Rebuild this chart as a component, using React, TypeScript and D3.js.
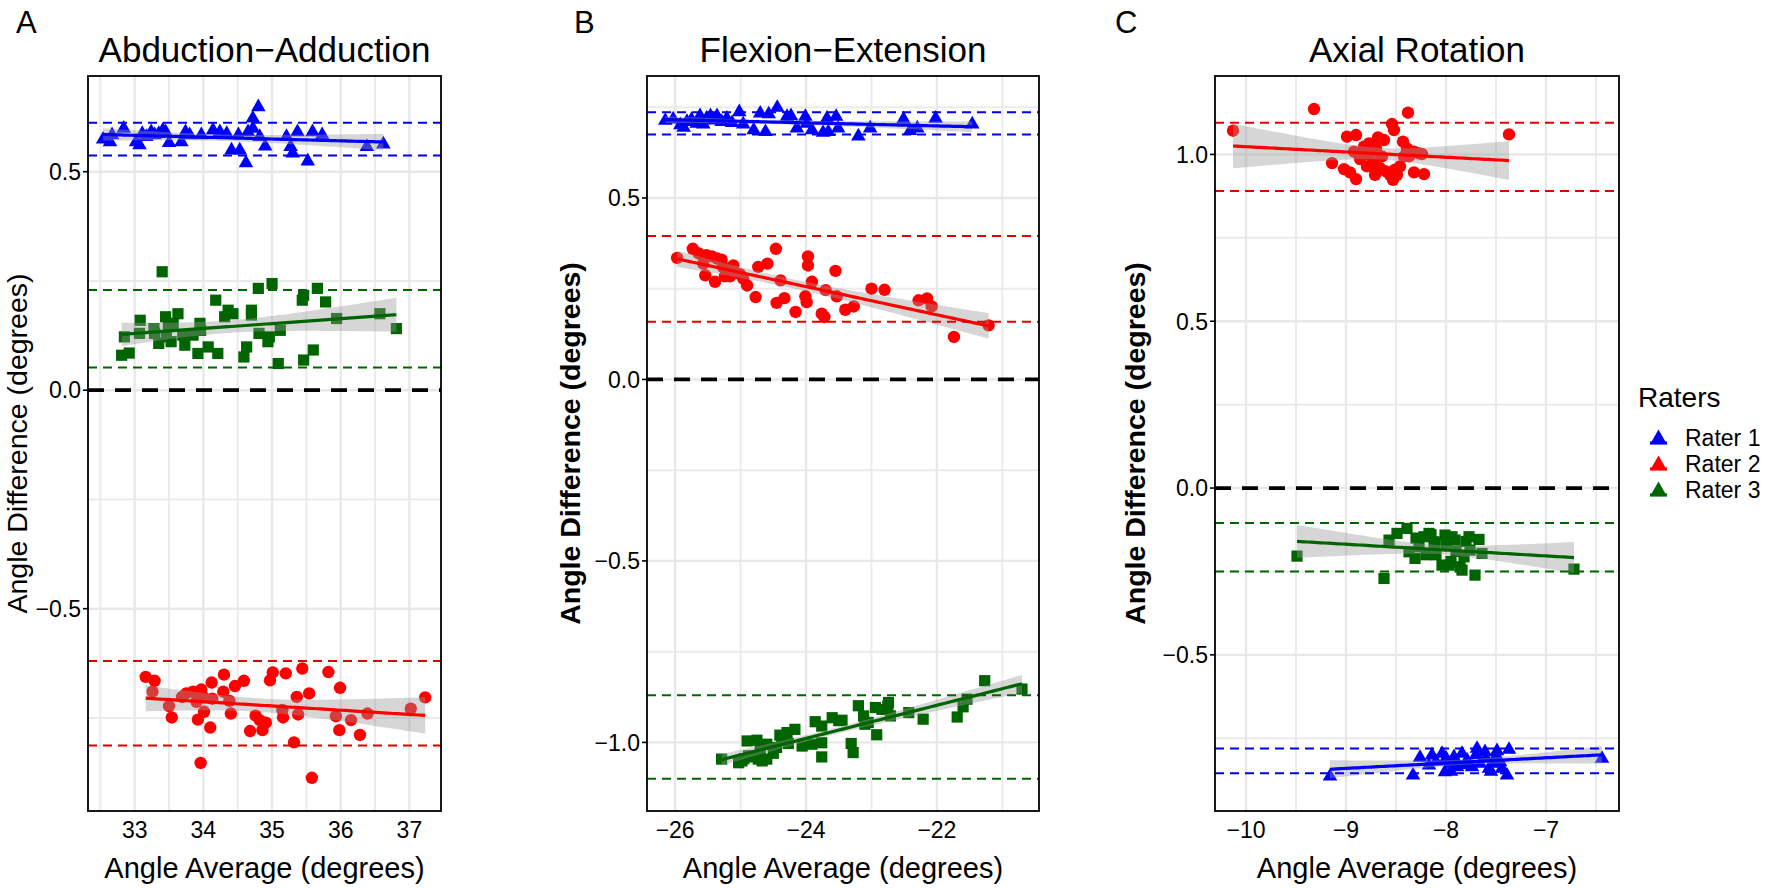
import * as d3 from 'd3'

const FONT = '"Liberation Sans", Arial, Helvetica, sans-serif'

const raterNames = ['Rater 1', 'Rater 2', 'Rater 3']
const raterColors = ['#0000ff', '#ff0000', '#006400']
const limitColors = ['#0000ee', '#dd0000', '#006400']
const raterShapes = ['triangle', 'circle', 'square']

const panelLetters = ['A', 'B', 'C']
const panelTitles = ['Abduction−Adduction', 'Flexion−Extension', 'Axial Rotation']

// axis ticks
const abdXTicks = [33, 34, 35, 36, 37]
const abdYTicks = [-0.5, 0, 0.5]
const flexXTicks = [-26, -24, -22]
const flexYTicks = [-1, -0.5, 0, 0.5]
const axXTicks = [-10, -9, -8, -7]
const axYTicks = [-0.5, 0, 0.5, 1]

// [angle average, angle difference]
const abdRater1 = [
  [32.54, 0.574], [32.64, 0.568], [32.67, 0.584], [32.84, 0.599], [33.02, 0.568], [33.07, 0.561],
  [33.11, 0.587], [33.17, 0.58], [33.24, 0.591], [33.29, 0.584], [33.35, 0.587], [33.41, 0.595],
  [33.45, 0.591], [33.5, 0.566], [33.68, 0.568], [33.74, 0.591], [33.8, 0.584], [33.97, 0.584],
  [34.14, 0.595], [34.24, 0.591], [34.34, 0.587], [34.41, 0.549], [34.51, 0.584], [34.53, 0.549],
  [34.62, 0.52], [34.65, 0.591], [34.72, 0.622], [34.72, 0.599], [34.8, 0.648], [34.82, 0.58],
  [34.9, 0.558], [35.21, 0.58], [35.27, 0.557], [35.3, 0.542], [35.37, 0.591], [35.52, 0.524],
  [35.59, 0.591], [35.73, 0.584], [36.38, 0.557], [36.62, 0.563],
]
const abdRater2 = [
  [33.16, -0.656], [33.29, -0.665], [33.26, -0.69], [33.5, -0.723], [33.54, -0.749], [33.69, -0.702],
  [33.75, -0.694], [33.85, -0.69], [33.9, -0.713], [33.92, -0.754], [33.97, -0.685], [34.0, -0.702],
  [34.01, -0.736], [33.96, -0.853], [34.1, -0.772], [34.12, -0.669], [34.13, -0.706], [34.29, -0.69],
  [34.3, -0.651], [34.38, -0.711], [34.4, -0.74], [34.46, -0.677], [34.59, -0.665], [34.68, -0.78],
  [34.76, -0.745], [34.82, -0.755], [34.86, -0.778], [34.91, -0.761], [34.97, -0.664], [35.01, -0.646],
  [35.15, -0.732], [35.16, -0.749], [35.2, -0.648], [35.32, -0.806], [35.36, -0.702], [35.38, -0.742],
  [35.44, -0.637], [35.54, -0.694], [35.58, -0.887], [35.82, -0.645], [35.93, -0.746], [35.98, -0.778],
  [35.99, -0.681], [36.15, -0.755], [36.28, -0.789], [36.39, -0.74], [37.02, -0.729], [37.23, -0.703],
]
const abdRater3 = [
  [32.81, 0.08], [32.92, 0.085], [32.85, 0.122], [33.08, 0.16], [33.07, 0.13], [33.28, 0.141],
  [33.29, 0.13], [33.35, 0.107], [33.4, 0.271], [33.45, 0.168], [33.46, 0.122], [33.49, 0.149],
  [33.53, 0.111], [33.56, 0.153], [33.63, 0.175], [33.7, 0.126], [33.73, 0.103], [33.85, 0.126],
  [33.92, 0.084], [33.95, 0.153], [33.96, 0.137], [34.07, 0.099], [34.18, 0.206], [34.21, 0.084],
  [34.31, 0.168], [34.36, 0.183], [34.43, 0.175], [34.59, 0.076], [34.63, 0.099], [34.7, 0.183],
  [34.7, 0.172], [34.8, 0.233], [34.81, 0.13], [34.94, 0.111], [34.96, 0.122], [35.0, 0.244],
  [35.09, 0.061], [35.12, 0.137], [35.44, 0.206], [35.46, 0.069], [35.46, 0.217], [35.6, 0.092],
  [35.66, 0.233], [35.78, 0.202], [35.94, 0.164], [36.57, 0.175], [36.81, 0.141],
]

const flexRater1 = [
  [-26.15, 0.713], [-26.03, 0.717], [-25.92, 0.701], [-25.87, 0.694], [-25.82, 0.71], [-25.75, 0.716],
  [-25.67, 0.705], [-25.62, 0.726], [-25.57, 0.703], [-25.52, 0.719], [-25.46, 0.726], [-25.41, 0.714],
  [-25.36, 0.726], [-25.29, 0.71], [-25.21, 0.719], [-25.13, 0.707], [-25.02, 0.737], [-24.96, 0.703],
  [-24.8, 0.687], [-24.7, 0.733], [-24.62, 0.682], [-24.57, 0.731], [-24.44, 0.749], [-24.29, 0.724],
  [-24.23, 0.726], [-24.14, 0.692], [-24.01, 0.724], [-23.99, 0.705], [-23.91, 0.687], [-23.74, 0.68],
  [-23.68, 0.719], [-23.66, 0.682], [-23.54, 0.724], [-23.51, 0.692], [-23.2, 0.67], [-23.02, 0.692],
  [-22.51, 0.717], [-22.41, 0.685], [-22.3, 0.692], [-22.02, 0.719], [-21.46, 0.703],
]
const flexRater2 = [
  [-25.97, 0.335], [-25.73, 0.36], [-25.64, 0.347], [-25.57, 0.319], [-25.54, 0.287], [-25.52, 0.342],
  [-25.44, 0.339], [-25.39, 0.269], [-25.36, 0.333], [-25.29, 0.33], [-25.27, 0.31], [-25.24, 0.284],
  [-25.16, 0.284], [-25.11, 0.314], [-25.01, 0.29], [-24.96, 0.278], [-24.9, 0.259], [-24.77, 0.227],
  [-24.73, 0.31], [-24.59, 0.319], [-24.46, 0.36], [-24.45, 0.211], [-24.39, 0.273], [-24.33, 0.224],
  [-24.16, 0.186], [-24.01, 0.229], [-23.99, 0.213], [-23.97, 0.339], [-23.97, 0.314], [-23.91, 0.269],
  [-23.76, 0.181], [-23.72, 0.172], [-23.7, 0.246], [-23.55, 0.299], [-23.53, 0.229], [-23.4, 0.192],
  [-23.27, 0.201], [-23.0, 0.25], [-22.8, 0.247], [-22.28, 0.218], [-22.15, 0.223], [-22.08, 0.201],
  [-21.74, 0.117], [-21.21, 0.149],
]
const flexRater3 = [
  [-25.29, -1.046], [-25.03, -1.056], [-24.98, -1.051], [-24.9, -0.996], [-24.88, -1.037], [-24.75, -0.994],
  [-24.73, -1.046], [-24.67, -1.051], [-24.6, -1.005], [-24.6, -1.046], [-24.45, -1.014], [-24.37, -0.994],
  [-24.29, -0.973], [-24.27, -1.003], [-24.17, -0.964], [-24.06, -1.01], [-23.91, -1.005], [-23.86, -0.943],
  [-23.76, -0.955], [-23.76, -1.001], [-23.76, -1.04], [-23.6, -0.932], [-23.45, -0.939], [-23.31, -1.003],
  [-23.28, -1.028], [-23.2, -0.899], [-23.12, -0.927], [-23.1, -0.95], [-22.94, -0.904], [-22.92, -0.979],
  [-22.84, -0.909], [-22.74, -0.89], [-22.71, -0.927], [-22.43, -0.918], [-22.21, -0.936], [-21.69, -0.93],
  [-21.6, -0.902], [-21.54, -0.881], [-21.27, -0.83], [-20.7, -0.853], [-24.95, -1.045], [-24.85, -1.04],
  [-24.7, -1.02], [-24.5, -1.03], [-24.4, -0.98], [-23.5, -0.94], [-23.05, -0.945], [-22.75, -0.9],
]

const axRater1 = [
  [-9.16, -0.864], [-8.33, -0.861], [-8.26, -0.808], [-8.17, -0.831], [-8.14, -0.801], [-8.04, -0.796],
  [-8.01, -0.851], [-7.96, -0.826], [-7.92, -0.806], [-7.89, -0.836], [-7.84, -0.796], [-7.79, -0.816],
  [-7.74, -0.836], [-7.69, -0.781], [-7.66, -0.826], [-7.61, -0.791], [-7.57, -0.841], [-7.54, -0.826],
  [-7.49, -0.788], [-7.46, -0.821], [-7.44, -0.841], [-7.39, -0.861], [-7.37, -0.784], [-6.44, -0.811],
  [-8.0, -0.81], [-7.9, -0.82], [-7.8, -0.83], [-7.7, -0.8], [-7.6, -0.81], [-7.55, -0.85],
  [-8.1, -0.82], [-7.95, -0.85], [-7.5, -0.805],
]
const axRater2 = [
  [-10.13, 1.071], [-9.32, 1.136], [-9.14, 0.974], [-9.02, 0.956], [-8.99, 1.053], [-8.96, 0.946],
  [-8.92, 1.008], [-8.9, 1.058], [-8.9, 0.926], [-8.86, 0.986], [-8.82, 1.023], [-8.79, 0.964],
  [-8.77, 1.033], [-8.76, 0.998], [-8.73, 0.974], [-8.71, 0.939], [-8.7, 1.018], [-8.68, 1.051],
  [-8.66, 0.959], [-8.64, 0.994], [-8.62, 1.043], [-8.6, 0.949], [-8.56, 0.939], [-8.54, 1.091],
  [-8.53, 0.924], [-8.52, 1.073], [-8.51, 0.954], [-8.49, 0.939], [-8.46, 0.964], [-8.43, 1.038],
  [-8.42, 0.994], [-8.39, 1.018], [-8.38, 1.125], [-8.37, 0.994], [-8.32, 0.946], [-8.32, 1.008],
  [-8.27, 1.003], [-8.24, 1.001], [-8.22, 0.941], [-7.37, 1.06],
]
const axRater3 = [
  [-9.49, -0.204], [-8.62, -0.271], [-8.57, -0.156], [-8.49, -0.136], [-8.39, -0.121], [-8.37, -0.191],
  [-8.31, -0.211], [-8.27, -0.176], [-8.22, -0.146], [-8.17, -0.136], [-8.12, -0.161], [-8.11, -0.166],
  [-8.04, -0.231], [-8.01, -0.141], [-7.97, -0.231], [-7.94, -0.146], [-7.91, -0.156], [-7.86, -0.236],
  [-7.84, -0.246], [-7.82, -0.206], [-7.77, -0.146], [-7.76, -0.186], [-7.71, -0.261], [-7.67, -0.154],
  [-7.64, -0.196], [-6.72, -0.243], [-8.3, -0.15], [-8.2, -0.2], [-8.0, -0.17], [-7.9, -0.19],
  [-7.8, -0.16], [-8.1, -0.2], [-7.95, -0.22], [-8.15, -0.14],
]

// limits of agreement [upper, lower] for rater 1, 2, 3
const abdLimits = [[0.612, 0.537], [-0.62, -0.813], [0.229, 0.052]]
const flexLimits = [[0.736, 0.675], [0.395, 0.159], [-0.87, -1.1]]
const axLimits = [[-0.781, -0.855], [1.095, 0.89], [-0.105, -0.25]]

const panels = [
  {
    series: [abdRater1, abdRater2, abdRater3], limits: abdLimits, xTicks: abdXTicks, yTicks: abdYTicks,
    xDomain: [32.32, 37.46], yDomain: [-0.963, 0.719],
    left: 88, right: 441, top: 76, bottom: 811, letterX: 16, yTitleX: 27, boldY: false,
  },
  {
    series: [flexRater1, flexRater2, flexRater3], limits: flexLimits, xTicks: flexXTicks, yTicks: flexYTicks,
    xDomain: [-26.43, -20.44], yDomain: [-1.189, 0.836],
    left: 647, right: 1039, top: 76, bottom: 811, letterX: 574, yTitleX: 580, boldY: true,
  },
  {
    series: [axRater1, axRater2, axRater3], limits: axLimits, xTicks: axXTicks, yTicks: axYTicks,
    xDomain: [-10.31, -6.27], yDomain: [-0.968, 1.235],
    left: 1215, right: 1619, top: 76, bottom: 811, letterX: 1115, yTitleX: 1145, boldY: true,
  },
]

const minus = (s: string) => s.replace('-', '−')

// midpoints between major ticks, one step beyond at both ends
function minorTicks(ticks: number[], domain: number[]) {
  const step = ticks[1] - ticks[0]
  const out: number[] = []
  for (let v = ticks[0] - step / 2; v <= ticks[ticks.length - 1] + step; v += step) {
    if (v > domain[0] && v < domain[1]) out.push(v)
  }
  return out
}

// lm fit with 95% confidence band, like geom_smooth(method = 'lm')
function lmBand(pts: number[][]) {
  const n = pts.length
  const mx = d3.mean(pts, (d) => d[0]) as number
  const my = d3.mean(pts, (d) => d[1]) as number
  const sxx = d3.sum(pts, (d) => (d[0] - mx) ** 2)
  const sxy = d3.sum(pts, (d) => (d[0] - mx) * (d[1] - my))
  const slope = sxy / sxx
  const icpt = my - slope * mx
  const s = Math.sqrt(d3.sum(pts, (d) => (d[1] - icpt - slope * d[0]) ** 2) / (n - 2))
  const t = 2.01
  const [x0, x1] = d3.extent(pts, (d) => d[0]) as [number, number]
  return d3.range(0, 81).map((i) => {
    const xv = x0 + ((x1 - x0) * i) / 80
    const f = icpt + slope * xv
    const se = s * Math.sqrt(1 / n + (xv - mx) ** 2 / sxx)
    return { x: xv, y: f, lo: f - t * se, hi: f + t * se }
  })
}

const symbolPath = {
  triangle: d3.symbol(d3.symbolTriangle, 92)(),
  circle: d3.symbol(d3.symbolCircle, Math.PI * 6.2 * 6.2)(),
  square: d3.symbol(d3.symbolSquare, 11.2 * 11.2)(),
}

function Panel({ p, i }: { p: any; i: number }) {
  const x = d3.scaleLinear().domain(p.xDomain).range([p.left, p.right])
  const y = d3.scaleLinear().domain(p.yDomain).range([p.bottom, p.top])
  const xMinor = minorTicks(p.xTicks, p.xDomain)
  const yMinor = minorTicks(p.yTicks, p.yDomain)
  const area = d3.area<any>().x((d) => x(d.x)).y0((d) => y(d.lo)).y1((d) => y(d.hi))
  const line = d3.line<any>().x((d) => x(d.x)).y((d) => y(d.y))
  const midX = (p.left + p.right) / 2
  const midY = (p.top + p.bottom) / 2

  return (
    <g>
      <rect x={p.left} y={p.top} width={p.right - p.left} height={p.bottom - p.top} fill="#fff" />
      {xMinor.map((v) => (
        <line key={'xm' + v} x1={x(v)} x2={x(v)} y1={p.top} y2={p.bottom} stroke="#ebebeb" strokeWidth={2} />
      ))}
      {yMinor.map((v) => (
        <line key={'ym' + v} x1={p.left} x2={p.right} y1={y(v)} y2={y(v)} stroke="#ebebeb" strokeWidth={2} />
      ))}
      {p.xTicks.map((v: number) => (
        <line key={'x' + v} x1={x(v)} x2={x(v)} y1={p.top} y2={p.bottom} stroke="#e8e8e8" strokeWidth={2.4} />
      ))}
      {p.yTicks.map((v: number) => (
        <line key={'y' + v} x1={p.left} x2={p.right} y1={y(v)} y2={y(v)} stroke="#e8e8e8" strokeWidth={2.4} />
      ))}

      {p.series.map((pts: number[][], r: number) => (
        <g key={'pts' + r} fill={raterColors[r]}>
          {pts.map((d, k) => (
            <path key={k} d={symbolPath[raterShapes[r]]} transform={`translate(${x(d[0])},${y(d[1])})`} />
          ))}
        </g>
      ))}
      {p.series.map((pts: number[][], r: number) => {
        const band = lmBand(pts)
        return (
          <g key={'fit' + r}>
            <path d={area(band) as string} fill="#999" fillOpacity={0.4} />
            <path d={line(band) as string} fill="none" stroke={raterColors[r]} strokeWidth={3.2} />
          </g>
        )
      })}

      {p.limits.map((lim: number[], r: number) =>
        lim.map((v, k) => (
          <line key={'l' + r + k} x1={p.left} x2={p.right} y1={y(v)} y2={y(v)}
            stroke={limitColors[r]} strokeWidth={2} strokeDasharray="9,6" />
        ))
      )}
      <line x1={p.left} x2={p.right} y1={y(0)} y2={y(0)} stroke="#000" strokeWidth={3.8} strokeDasharray="16,11" />

      <rect x={p.left} y={p.top} width={p.right - p.left} height={p.bottom - p.top} fill="none" stroke="#000" strokeWidth={1.8} />

      {p.yTicks.map((v: number) => (
        <g key={'yt' + v}>
          <line x1={p.left - 5} x2={p.left} y1={y(v)} y2={y(v)} stroke="#000" strokeWidth={1.6} />
          <text x={p.left - 7} y={y(v)} dy="0.36em" textAnchor="end" fontSize={23}>
            {minus(d3.format('.1f')(v))}
          </text>
        </g>
      ))}
      {p.xTicks.map((v: number) => (
        <text key={'xt' + v} x={x(v)} y={p.bottom + 27} textAnchor="middle" fontSize={23}>
          {minus(String(v))}
        </text>
      ))}

      <text x={p.letterX} y={33} fontSize={31}>{panelLetters[i]}</text>
      <text x={midX} y={62} textAnchor="middle" fontSize={35}>{panelTitles[i]}</text>
      <text x={midX} y={878} textAnchor="middle" fontSize={29}>Angle Average (degrees)</text>
      <text transform={`translate(${p.yTitleX},${midY}) rotate(-90)`} textAnchor="middle" fontSize={28.5}
        fontWeight={p.boldY ? 'bold' : 'normal'}>
        Angle Difference (degrees)
      </text>
    </g>
  )
}

function Legend() {
  const rows = raterNames.map((name, r) => ({ name, r }))
  return (
    <g>
      <text x={1638} y={407} fontSize={28}>Raters</text>
      {rows.map(({ name, r }) => {
        const cy = 438 + r * 26
        return (
          <g key={name}>
            <line x1={1650} x2={1667} y1={cy + 5} y2={cy + 5} stroke={raterColors[r]} strokeWidth={3.2} />
            <path d={symbolPath.triangle} transform={`translate(1658.5,${cy})`} fill={raterColors[r]} />
            <text x={1685} y={cy + 8} fontSize={23}>{name}</text>
          </g>
        )
      })}
    </g>
  )
}

export default function App() {
  return (
    <svg width={1772} height={888} fontFamily={FONT}
      style={{ position: 'absolute', left: 0, top: 0, display: 'block', background: '#fff' }}>
      <rect width={1772} height={888} fill="#fff" />
      {panels.map((p, i) => (
        <Panel key={i} p={p} i={i} />
      ))}
      <Legend />
    </svg>
  )
}
